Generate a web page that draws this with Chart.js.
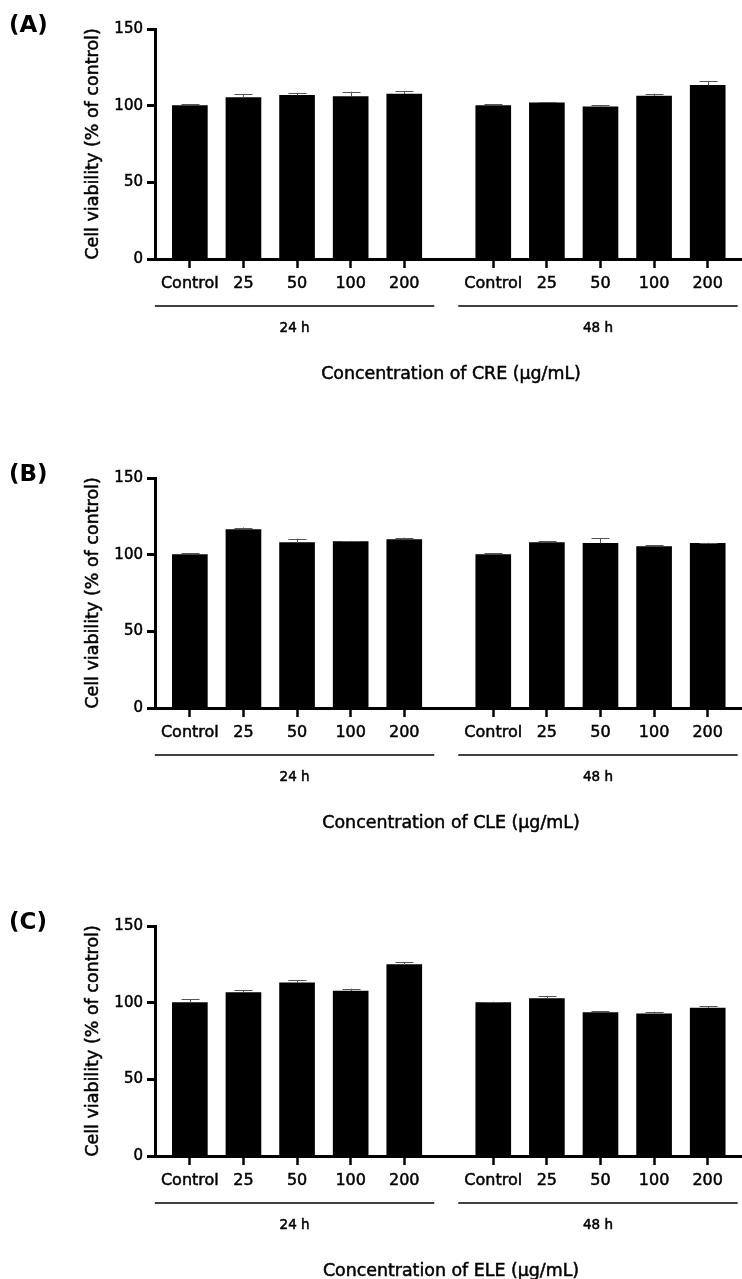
<!DOCTYPE html>
<html>
<head>
<meta charset="utf-8">
<script src="https://cdn.jsdelivr.net/npm/chart.js@4.4.0/dist/chart.umd.min.js"></script>
<style>
  html, body { margin: 0; padding: 0; background: #fff; overflow: hidden; }
  .panel { position: absolute; left: 0; }
  canvas { display: block; }
</style>
</head>
<body>
<div class="panel" style="top:0px"><canvas id="chartA" width="742" height="449"></canvas></div>
<div class="panel" style="top:449px"><canvas id="chartB" width="742" height="449"></canvas></div>
<div class="panel" style="top:897px"><canvas id="chartC" width="742" height="449"></canvas></div>
<script>
const doseLabels = ['Control', '25', '50', '100', '200'];
const timeLabels = ['24 h', '48 h'];
const yTicks = [0, 50, 100, 150];

// (A) CRE
const creMean24 = [100, 105.2, 106.8, 105.9, 107.6];
const creErr24 = [1.1, 2.2, 1.3, 3.2, 2.0];
const creMean48 = [100, 101.8, 99.2, 106.3, 113.3];
const creErr48 = [1.1, 0.6, 1.1, 1.5, 2.8];

// (B) CLE
const cleMean24 = [100, 116.4, 107.9, 108.5, 109.8];
const cleErr24 = [1.0, 1.3, 2.6, 0.5, 1.3];
const cleMean48 = [100, 107.9, 107.4, 105.2, 107.4];
const cleErr48 = [1.0, 1.1, 3.5, 0.9, 0.4];

// (C) ELE
const eleMean24 = [100, 106.5, 113.0, 107.6, 124.8];
const eleErr24 = [2.4, 1.8, 1.8, 1.5, 1.8];
const eleMean48 = [100, 102.6, 93.5, 92.8, 96.5];
const eleErr48 = [0.6, 1.8, 1.1, 1.3, 1.3];

const FONT = '"DejaVu Sans", Verdana, sans-serif';
const GAP = 0.66; // extra space between the 24 h and 48 h groups (in bar slots)
const STROKE = 0.5; // a little extra weight on the labels

function slotPositions() {
  const pos = [];
  timeLabels.forEach((t, g) => {
    doseLabels.forEach((d, i) => pos.push(g * (doseLabels.length + GAP) + i));
  });
  return pos;
}

function boldText(ctx, text, x, y) {
  ctx.fillText(text, x, y);
  ctx.strokeText(text, x, y);
}

const errorBars = {
  id: 'errorBars',
  afterDatasetsDraw(chart, args, opts) {
    const { ctx } = chart;
    const y = chart.scales.y;
    const meta = chart.getDatasetMeta(0);
    ctx.save();
    ctx.strokeStyle = '#555';
    ctx.lineWidth = 1;
    meta.data.forEach((bar, i) => {
      const v = chart.data.datasets[0].data[i].y;
      const top = y.getPixelForValue(v + opts.errors[i]);
      const x = Math.round(bar.x) + 0.5;
      ctx.beginPath();
      ctx.moveTo(x, bar.y);
      ctx.lineTo(x, top);
      ctx.moveTo(x - 9, Math.round(top) + 0.5);
      ctx.lineTo(x + 9, Math.round(top) + 0.5);
      ctx.stroke();
    });
    ctx.restore();
  },
};

const panelDecor = {
  id: 'panelDecor',
  afterDraw(chart, args, opts) {
    const { ctx, chartArea } = chart;
    const x = chart.scales.x;
    const pos = slotPositions();
    const n = doseLabels.length;
    ctx.save();
    ctx.fillStyle = '#000';
    ctx.strokeStyle = '#000';

    ctx.font = 'bold 23px ' + FONT;
    ctx.textAlign = 'left';
    ctx.textBaseline = 'alphabetic';
    ctx.fillText(opts.letter, 9, 32);

    ctx.lineWidth = STROKE;
    ctx.save();
    ctx.translate(93, (chartArea.top + chartArea.bottom) / 2);
    ctx.rotate(-Math.PI / 2);
    ctx.font = '17.5px ' + FONT;
    ctx.textAlign = 'center';
    ctx.textBaseline = 'middle';
    boldText(ctx, 'Cell viability (% of control)', 0, 0);
    ctx.restore();

    timeLabels.forEach((t, g) => {
      const x0 = x.getPixelForValue(pos[g * n]) - 35;
      const x1 = x.getPixelForValue(pos[g * n + n - 1]) + 30;
      ctx.lineWidth = 1.5;
      ctx.beginPath();
      ctx.moveTo(x0, 306);
      ctx.lineTo(x1, 306);
      ctx.stroke();
      ctx.lineWidth = STROKE;
      ctx.font = '13.5px ' + FONT;
      ctx.textAlign = 'center';
      ctx.textBaseline = 'middle';
      boldText(ctx, t, (x0 + x1) / 2, 328);
    });

    ctx.font = '17.4px ' + FONT;
    ctx.textAlign = 'center';
    ctx.textBaseline = 'middle';
    boldText(ctx, 'Concentration of ' + opts.extract + ' (\u00b5g/mL)', 451, 374);
    ctx.restore();
  },
};

function makePanel(canvasId, letter, extract, mean24, err24, mean48, err48) {
  const pos = slotPositions();
  const means = mean24.concat(mean48);
  const errors = err24.concat(err48);
  const points = pos.map((p, i) => ({ x: p, y: means[i] }));
  const ctx = document.getElementById(canvasId).getContext('2d');
  new Chart(ctx, {
    type: 'bar',
    data: {
      datasets: [{
        data: points,
        backgroundColor: '#000',
        borderWidth: 0,
        barThickness: 35,
      }],
    },
    options: {
      responsive: false,
      animation: false,
      layout: { padding: { top: 29, left: 0, right: 0, bottom: 0 } },
      plugins: {
        legend: { display: false },
        tooltip: { enabled: false },
        errorBars: { errors: errors },
        panelDecor: { letter: letter, extract: extract },
      },
      scales: {
        x: {
          type: 'linear',
          offset: false,
          min: -0.65,
          max: pos[pos.length - 1] + 0.64,
          afterBuildTicks: (scale) => {
            scale.ticks = pos.map(v => ({ value: v }));
          },
          afterFit: (scale) => { scale.height = 190; },
          grid: {
            display: true,
            offset: false,
            drawOnChartArea: false,
            drawTicks: true,
            tickLength: 9,
            tickWidth: 2.5,
            tickColor: '#000',
          },
          border: { display: true, color: '#000', width: 3 },
          ticks: {
            autoSkip: false,
            maxRotation: 0,
            padding: 6,
            color: '#000',
            textStrokeColor: '#000',
            textStrokeWidth: STROKE,
            font: { family: FONT, size: 16 },
            callback: (value, index) => doseLabels[index % doseLabels.length],
          },
        },
        y: {
          min: 0,
          max: 150,
          afterBuildTicks: (scale) => {
            scale.ticks = yTicks.map(v => ({ value: v }));
          },
          afterFit: (scale) => { scale.width = 155; },
          grid: {
            display: true,
            drawOnChartArea: false,
            drawTicks: true,
            tickLength: 8,
            tickWidth: 3,
            tickColor: '#000',
          },
          border: { display: true, color: '#000', width: 3 },
          ticks: {
            padding: 4,
            color: '#000',
            textStrokeColor: '#000',
            textStrokeWidth: STROKE,
            font: { family: FONT, size: 15 },
          },
        },
      },
    },
    plugins: [errorBars, panelDecor],
  });
}

makePanel('chartA', '(A)', 'CRE', creMean24, creErr24, creMean48, creErr48);
makePanel('chartB', '(B)', 'CLE', cleMean24, cleErr24, cleMean48, cleErr48);
makePanel('chartC', '(C)', 'ELE', eleMean24, eleErr24, eleMean48, eleErr48);
</script>
</body>
</html>
